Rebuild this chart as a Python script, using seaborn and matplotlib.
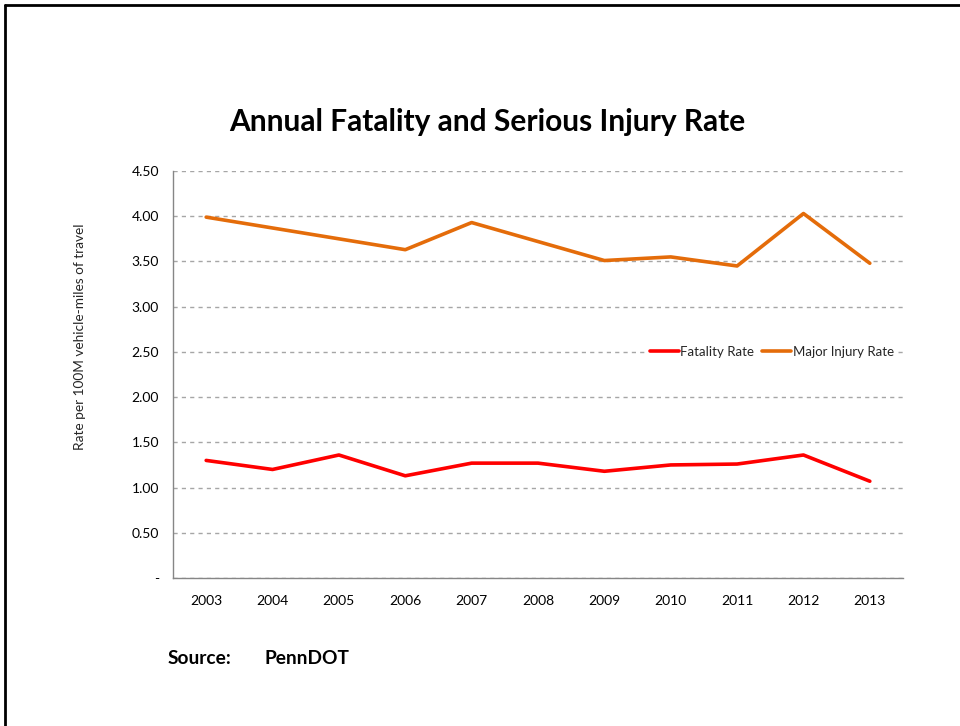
import pandas as pd
import matplotlib.pyplot as plt
import seaborn as sns
from matplotlib.lines import Line2D

# --- DATA ---
years = ["2003", "2004", "2005", "2006", "2007", "2008", "2009", "2010", "2011", "2012", "2013"]
fatality_rate = [1.30, 1.20, 1.36, 1.13, 1.27, 1.27, 1.18, 1.25, 1.26, 1.36, 1.07]
injury_rate = [3.99, 3.87, 3.75, 3.63, 3.93, 3.72, 3.51, 3.55, 3.45, 4.03, 3.48]
y_ticks = [0, 0.5, 1.0, 1.5, 2.0, 2.5, 3.0, 3.5, 4.0, 4.5]
y_labels = ["-", "0.50", "1.00", "1.50", "2.00", "2.50", "3.00", "3.50", "4.00", "4.50"]

df = pd.DataFrame({
    "Year": years * 2,
    "Rate": fatality_rate + injury_rate,
    "Series": ["Fatality Rate"] * len(years) + ["Major Injury Rate"] * len(years),
})

sns.set_theme(style="white")
plt.rcParams["font.family"] = ["Lato", "DejaVu Sans"]

fig = plt.figure(figsize=(9.6, 7.26), dpi=100)
ax = fig.add_axes([173 / 960, 1 - 578 / 726, 730 / 960, 407 / 726])

palette = {"Fatality Rate": "#ff0000", "Major Injury Rate": "#e46c0a"}
sns.lineplot(data=df, x="Year", y="Rate", hue="Series", palette=palette,
             linewidth=2.6, sort=False, ax=ax, legend=False)

ax.set_xlim(-0.5, len(years) - 0.5)
ax.set_ylim(0, 4.5)
ax.set_yticks(y_ticks)
ax.set_yticklabels(y_labels)
ax.yaxis.grid(True, linestyle=(0, (3, 3)), color="#a6a6a6", linewidth=1)
ax.set_axisbelow(True)
ax.tick_params(axis="both", length=0, labelsize=10, colors="black")
ax.tick_params(axis="x", pad=12)
ax.tick_params(axis="y", pad=10)
for s in ["top", "right"]:
    ax.spines[s].set_visible(False)
for s in ["left", "bottom"]:
    ax.spines[s].set_color("#868686")
    ax.spines[s].set_linewidth(1)

ax.set_xlabel("")
ax.set_ylabel("")
fig.text(80 / 960, 1 - 337 / 726, "Rate per 100M vehicle-miles of travel",
         rotation=90, ha="center", va="center", fontsize=9.8)

handles = [Line2D([], [], color=palette[k], linewidth=2.6) for k in palette]
ax.legend(handles, list(palette.keys()), loc="center right", bbox_to_anchor=(1.0, 0.555),
          ncol=2, frameon=True, facecolor="white", edgecolor="none", framealpha=1,
          fontsize=9.5, handlelength=2.2, handletextpad=0.1, columnspacing=0.6,
          borderpad=0.2)

fig.text(487 / 960, 1 - 122 / 726, "Annual Fatality and Serious Injury Rate",
         ha="center", va="center", fontsize=21.5, fontweight="bold", color="black")
fig.text(168 / 960, 1 - 659 / 726, "Source:", ha="left", va="center",
         fontsize=13.8, fontweight="bold", color="black")
fig.text(265 / 960, 1 - 659 / 726, "PennDOT", ha="left", va="center",
         fontsize=13.8, fontweight="bold", color="black")

# page border (top and left)
fig.add_artist(Line2D([5 / 960, 5 / 960], [0, 1 - 5 / 726], color="black",
                      linewidth=2, transform=fig.transFigure))
fig.add_artist(Line2D([5 / 960, 1], [1 - 5 / 726, 1 - 5 / 726], color="black",
                      linewidth=2, transform=fig.transFigure))

fig.savefig("out.png", dpi=100)
